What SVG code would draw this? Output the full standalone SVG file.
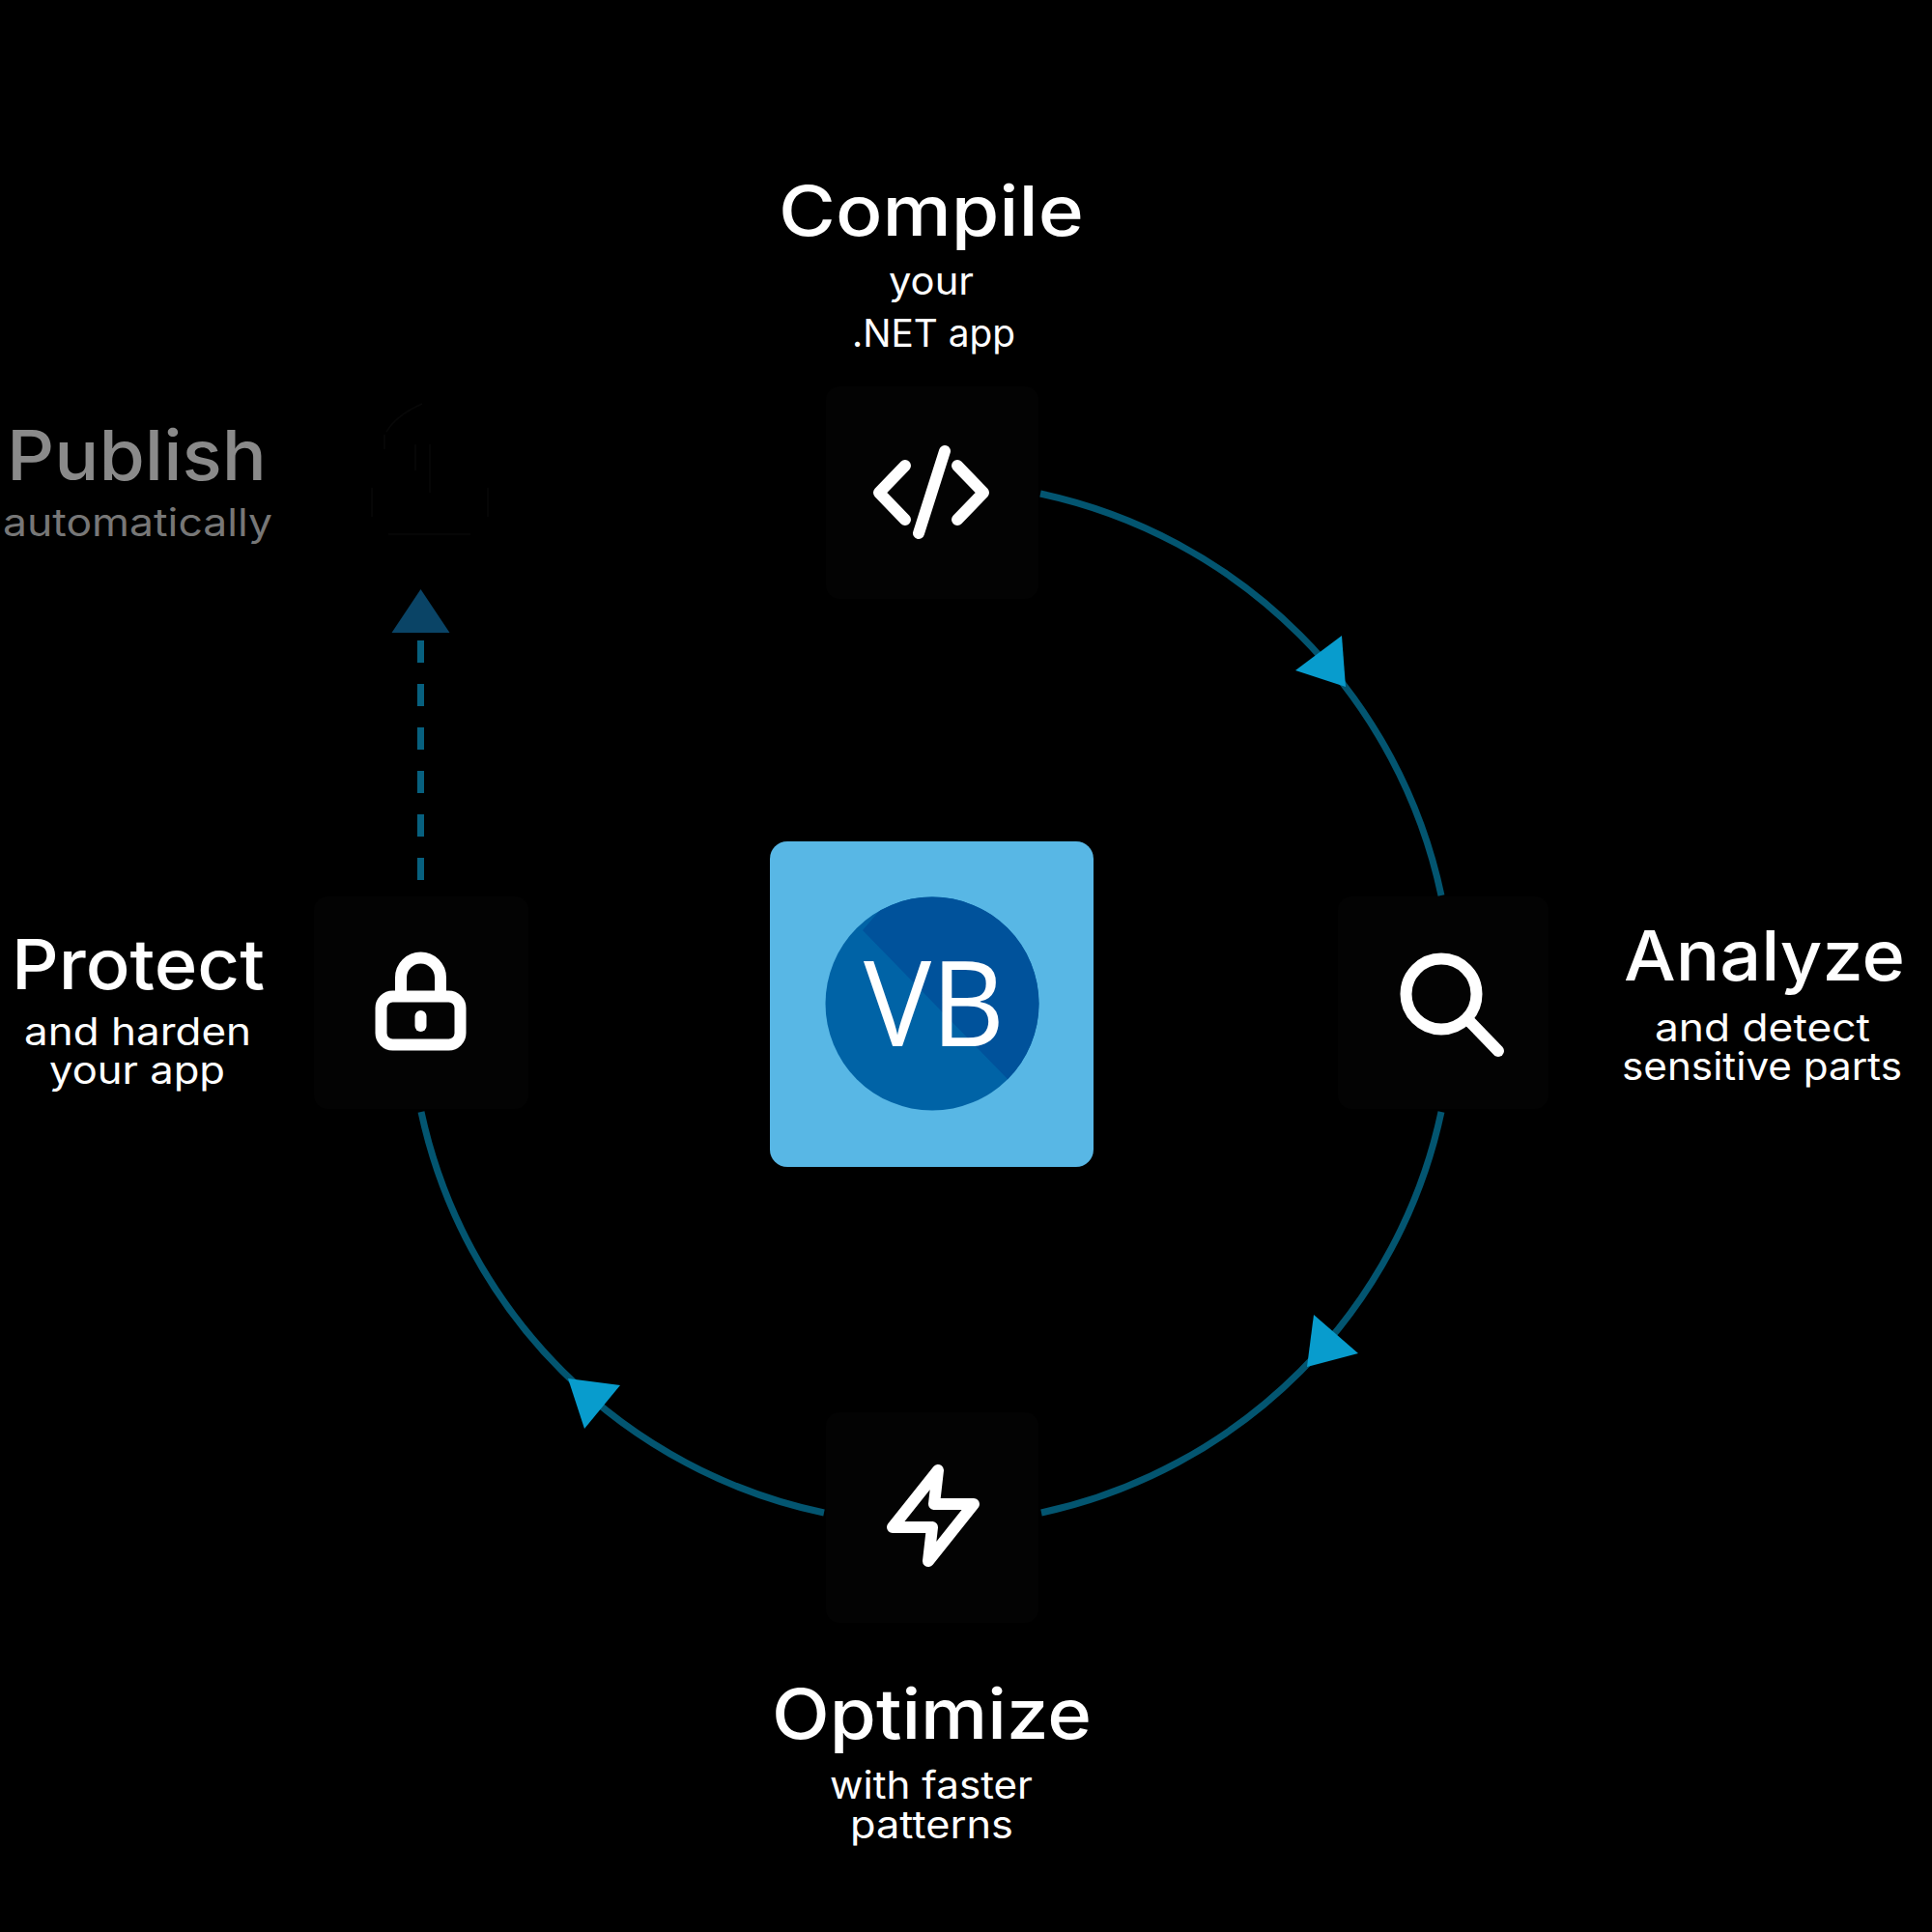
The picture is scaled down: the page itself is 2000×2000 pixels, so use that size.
<svg xmlns="http://www.w3.org/2000/svg" width="2000" height="2000" viewBox="0 0 2000 2000">
<style>
text{font-family:"Inter","Noto Sans","Liberation Sans",sans-serif;fill:#fff;text-anchor:start}
.t{font-size:72px;font-weight:500}
.s{font-size:39px;font-weight:400}
.box{fill:#030303}
.ico{fill:none;stroke:#fff;stroke-width:12;stroke-linecap:round;stroke-linejoin:round}
.arc{fill:none;stroke:#035570;stroke-width:7}
.head{fill:#089ccd}
</style>
<defs><clipPath id="cc"><circle cx="965" cy="1039" r="110.5"/></clipPath></defs>
<rect width="2000" height="2000" fill="#000"/>
<g id="connectors">
<path class="arc" d="M1077 511A540 540 0 0 1 1492 927"/>
<path class="arc" d="M1492 1151A540 540 0 0 1 1078 1566"/>
<path class="arc" d="M853 1566A540 540 0 0 1 436 1151"/>
<path d="M435.500 911V662" fill="none" stroke="#07607f" stroke-width="7" stroke-dasharray="23 22"/>
<polygon class="head" points="1389,658 1341,694 1393,711"/>
<polygon class="head" points="1360,1361 1406,1401 1353,1415"/>
<polygon class="head" points="642,1434 588,1427 605,1479"/>
<polygon points="435.500,610 405.500,655 465.500,655" fill="#0a4466"/>
</g>
<g id="center">
<rect x="797" y="871" width="335" height="337" rx="18" fill="#58b7e5"/>
<circle cx="965" cy="1039" r="110.500" fill="#0063a6"/>
<polygon clip-path="url(#cc)" points="893,963 930,920 1090,920 1090,1160 1043,1117" fill="#00529b"/>
<text x="894" y="1083" style="font-family:'Open Sans','Noto Sans',sans-serif;font-size:122px;font-weight:500" textLength="146" lengthAdjust="spacingAndGlyphs">VB</text>
</g>
<g id="compile">
<rect class="box" x="855" y="400" width="220" height="220" rx="14"/>
<path class="ico" d="M937 482L910 510L937 538M991 482L1018 510L991 538M978 467L951 552"/>
<text class="t" x="806" y="244" textLength="316" lengthAdjust="spacingAndGlyphs">Compile</text>
<text class="s" x="920" y="305" textLength="88" lengthAdjust="spacingAndGlyphs">your</text>
<text class="s" x="882" y="359" textLength="169" lengthAdjust="spacingAndGlyphs">.NET app</text>
</g>
<g id="analyze">
<rect class="box" x="1385" y="928" width="218" height="220" rx="14"/>
<circle class="ico" cx="1492" cy="1029" r="36.500"/>
<path class="ico" d="M1522 1058L1551 1088"/>
<text class="t" x="1681" y="1015" textLength="291" lengthAdjust="spacingAndGlyphs">Analyze</text>
<text class="s" x="1713" y="1078" textLength="223" lengthAdjust="spacingAndGlyphs">and detect</text>
<text class="s" x="1679" y="1118" textLength="290" lengthAdjust="spacingAndGlyphs">sensitive parts</text>
</g>
<g id="optimize">
<rect class="box" x="855" y="1462" width="220" height="218" rx="14"/>
<path class="ico" d="M971 1522L967 1557H1008L961 1616L965 1581H924Z"/>
<text class="t" x="799" y="1800" textLength="331" lengthAdjust="spacingAndGlyphs">Optimize</text>
<text class="s" x="859" y="1862" textLength="210" lengthAdjust="spacingAndGlyphs">with faster</text>
<text class="s" x="880" y="1903" textLength="169" lengthAdjust="spacingAndGlyphs">patterns</text>
</g>
<g id="protect">
<rect class="box" x="325" y="928" width="222" height="220" rx="14"/>
<rect class="ico" x="394.500" y="1031.500" width="82" height="50" rx="12"/>
<path class="ico" d="M415 1030V1012a20.500 20.500 0 0 1 41 0V1030"/>
<path class="ico" d="M435.500 1052V1062"/>
<text class="t" x="12" y="1024" textLength="262" lengthAdjust="spacingAndGlyphs">Protect</text>
<text class="s" x="25" y="1082" textLength="235" lengthAdjust="spacingAndGlyphs">and harden</text>
<text class="s" x="51" y="1122" textLength="182" lengthAdjust="spacingAndGlyphs">your app</text>
</g>
<g id="publish">
<path d="M400 447Q410 430 437 418M398 450V465M385 505V535M505 505V535M402 553H487M430 460V487M445 460V510" fill="none" stroke="#080808" stroke-width="1.500"/>
<text class="t" x="7" y="497" textLength="269" lengthAdjust="spacingAndGlyphs" style="fill:#8a8a8a">Publish</text>
<text class="s" x="3" y="555" textLength="279" lengthAdjust="spacingAndGlyphs" style="fill:#777">automatically</text>
</g>
</svg>
